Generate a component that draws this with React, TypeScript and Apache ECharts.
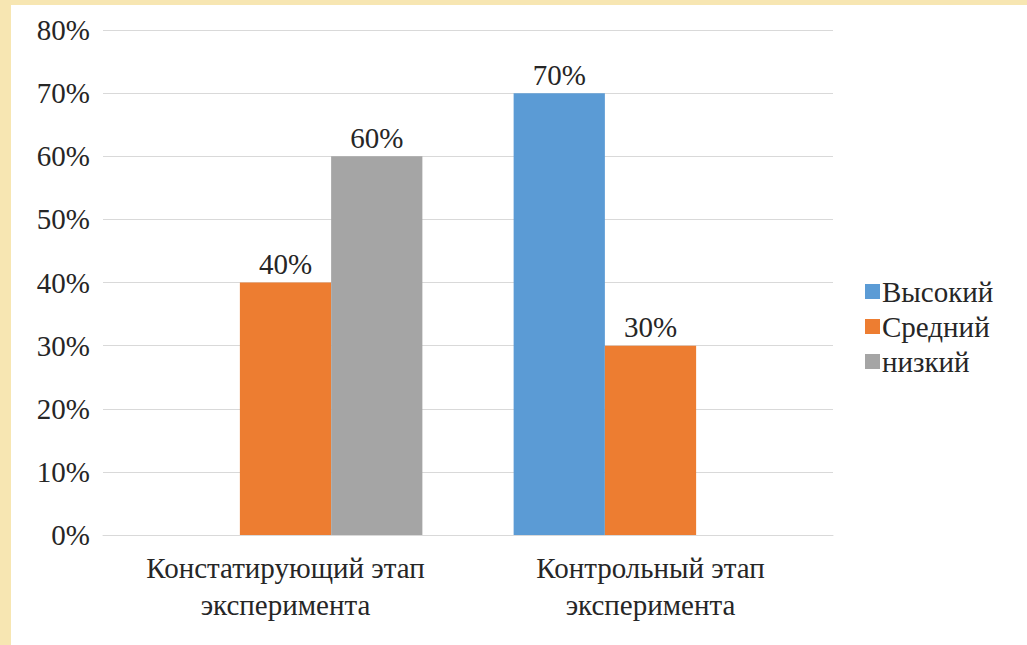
import React, { useEffect, useRef } from "react";
import * as echarts from "echarts";

const categories = ["Констатирующий этап\nэксперимента", "Контрольный этап\nэксперимента"];
const seriesNames = ["Высокий", "Средний", "низкий"];
const highValues = [null, 70];
const mediumValues = [40, 30];
const lowValues = [60, null];
const colors = ["#5B9BD5", "#ED7D31", "#A5A5A5"];

const FONT = "Liberation Serif, DejaVu Serif, serif";
const FS = 29;

export default function App() {
  const ref = useRef<HTMLDivElement>(null);
  useEffect(() => {
    if (!ref.current) return;
    const chart = echarts.init(ref.current, null, { renderer: "svg" });
    const values = [highValues, mediumValues, lowValues];
    chart.setOption({
      animation: false,
      backgroundColor: "#F7E6B2",
      textStyle: { fontFamily: FONT, fontSize: FS },
      graphic: [
        {
          type: "rect",
          z: -10,
          silent: true,
          shape: { x: 11, y: 5, width: 1016, height: 640 },
          style: { fill: "#FFFFFF" },
        },
      ],
      grid: { left: 103, right: 194, top: 30, bottom: 110, containLabel: false },
      legend: {
        orient: "vertical",
        left: 860,
        top: 272,
        itemWidth: 15,
        itemHeight: 15,
        itemGap: 6,
        icon: "rect",
        textStyle: { fontFamily: FONT, fontSize: FS, color: "#262626", padding: [0, 0, 0, -3] },
        data: seriesNames,
      },
      xAxis: {
        type: "category",
        data: categories,
        axisLine: { show: true, lineStyle: { color: "#D9D9D9", width: 1 } },
        axisTick: { show: false },
        axisLabel: {
          fontFamily: FONT,
          fontSize: FS,
          color: "#262626",
          lineHeight: 37,
          margin: 14,
          interval: 0,
        },
      },
      yAxis: {
        type: "value",
        min: 0,
        max: 80,
        interval: 10,
        axisLine: { show: false },
        axisTick: { show: false },
        splitLine: { lineStyle: { color: "#D9D9D9", width: 1 } },
        axisLabel: {
          formatter: "{value}%",
          fontFamily: FONT,
          fontSize: FS,
          color: "#262626",
          margin: 13,
        },
      },
      series: seriesNames.map((name, i) => ({
        name,
        type: "bar",
        data: values[i],
        barGap: "0%",
        barCategoryGap: "25%",
        itemStyle: { color: colors[i] },
        label: {
          show: true,
          position: "top",
          distance: 4,
          formatter: "{c}%",
          fontFamily: FONT,
          fontSize: FS,
          color: "#262626",
        },
      })),
    });
    return () => chart.dispose();
  }, []);
  return (
    <div
      ref={ref}
      style={{ width: 1027, height: 645, position: "absolute", left: 0, top: 0 }}
    />
  );
}
